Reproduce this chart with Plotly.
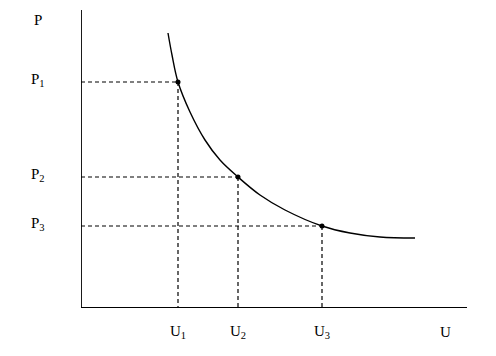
import plotly.graph_objects as go

# Demand-type curve (x: U units, y: P units)
curve_u = [87, 91, 97, 109, 124, 139, 157, 179, 204, 241, 269, 299, 334]
curve_p = [275, 253, 226, 196, 168, 148, 131, 113, 98, 82, 75, 71, 70]

point_u = [97, 157, 241]
point_p = [226, 131, 82]
u_labels = ["U<sub>1</sub>", "U<sub>2</sub>", "U<sub>3</sub>"]
p_labels = ["P<sub>1</sub>", "P<sub>2</sub>", "P<sub>3</sub>"]
axis_u_label = "U"
axis_p_label = "P"

X_MAX, Y_MAX = 386, 298
FONT = dict(family="Liberation Serif, Times New Roman, serif", size=15, color="black")

fig = go.Figure()

# dashed guides
for u, p in zip(point_u, point_p):
    fig.add_trace(go.Scatter(x=[0, u], y=[p, p], mode="lines",
                             line=dict(color="black", width=1.2, dash="4px,3px"),
                             hoverinfo="skip", showlegend=False))
    fig.add_trace(go.Scatter(x=[u, u], y=[p, 0], mode="lines",
                             line=dict(color="black", width=1.2, dash="4px,3px"),
                             hoverinfo="skip", showlegend=False))

fig.add_trace(go.Scatter(x=curve_u, y=curve_p, mode="lines",
                         line=dict(color="black", width=1.4, shape="spline", smoothing=1.0),
                         showlegend=False))
fig.add_trace(go.Scatter(x=point_u, y=point_p, mode="markers",
                         marker=dict(color="black", size=5), showlegend=False))

# axes
fig.add_shape(type="line", x0=0, x1=0, y0=0, y1=Y_MAX, xref="x", yref="y",
              line=dict(color="black", width=1.8))
fig.add_shape(type="line", x0=0, x1=X_MAX, y0=0, y1=0, xref="x", yref="y",
              line=dict(color="black", width=1.8))

def px(u):
    return u / X_MAX

def py(p):
    return p / Y_MAX

ann = []
for u, t in zip(point_u, u_labels):
    ann.append(dict(x=px(u), y=py(-24), text=t))
ann.append(dict(x=px(364), y=py(-24), text=axis_u_label))
for p, t in zip(point_p, p_labels):
    ann.append(dict(x=px(-43), y=py(p + 2), text=t))
ann.append(dict(x=px(-43), y=py(288), text=axis_p_label))
for a in ann:
    a.update(xref="paper", yref="paper", font=FONT, showarrow=False,
             xanchor="center", yanchor="middle")

fig.update_layout(
    width=496, height=356,
    margin=dict(l=81, r=29, t=10, b=48),
    paper_bgcolor="white", plot_bgcolor="white",
    xaxis=dict(range=[0, X_MAX], visible=False, fixedrange=True),
    yaxis=dict(range=[0, Y_MAX], visible=False, fixedrange=True),
    annotations=ann,
)

fig.write_html("out.html")
